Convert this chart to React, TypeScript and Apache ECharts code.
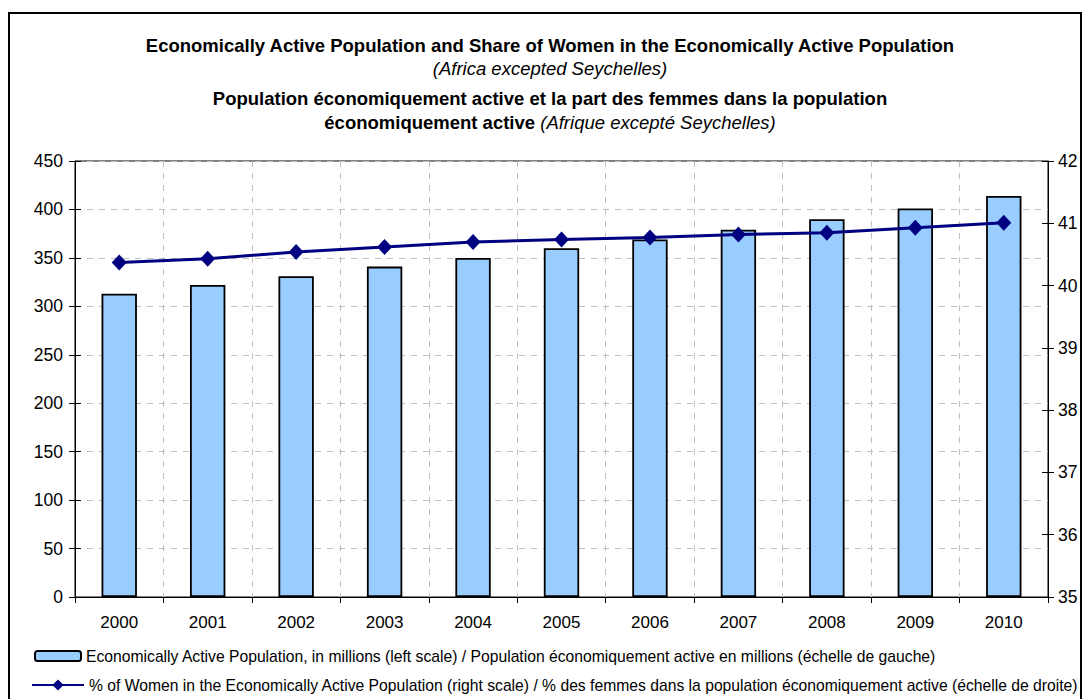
import React, { useEffect, useRef } from "react";
import * as echarts from "echarts";

const years = ["2000", "2001", "2002", "2003", "2004", "2005", "2006", "2007", "2008", "2009", "2010"];
const activePopulation = [313, 322, 331, 341, 350, 360, 369, 379, 390, 401, 414];
const womenShare = [40.37, 40.43, 40.54, 40.62, 40.7, 40.74, 40.77, 40.82, 40.85, 40.93, 41.01];

const titleLine1 = "Economically Active Population and Share of Women in the Economically Active Population";
const titleLine2 = "(Africa excepted Seychelles)";
const titleLine3 = "Population économiquement active et la part des femmes dans la population";
const titleLine4a = "économiquement active";
const titleLine4b = "(Afrique excepté Seychelles)";

const barName =
  "Economically Active Population, in millions (left scale) / Population économiquement active en millions (échelle de gauche)";
const lineName =
  "% of Women in the Economically Active Population (right scale) / % des femmes dans la population économiquement active (échelle de droite)";

const FONT = "'Liberation Sans', Arial, sans-serif";
const TITLE_SIZE = 18.5;
const LEGEND_SIZE = 15.7;

export default function App() {
  const ref = useRef<HTMLDivElement>(null);
  useEffect(() => {
    document.body.style.margin = "0";
    if (!ref.current) return;
    const chart = echarts.init(ref.current, null, { renderer: "svg" });
    const dash = [6, 6];
    const legendCommon = {
      orient: "horizontal",
      left: 29,
      itemWidth: 46,
      itemHeight: 10,
      textStyle: { fontFamily: FONT, fontSize: LEGEND_SIZE, color: "#000" },
    };
    chart.setOption({
      animation: false,
      backgroundColor: "#ffffff",
      textStyle: { fontFamily: FONT, color: "#000" },
      graphic: [
        {
          type: "rect",
          shape: { x: 9, y: 13, width: 1072, height: 700 },
          style: { fill: "none", stroke: "#000", lineWidth: 2 },
          silent: true,
        },
        {
          type: "text",
          x: 550,
          y: 45,
          style: {
            text: titleLine1,
            fontFamily: FONT,
            fontWeight: "bold",
            fontSize: TITLE_SIZE,
            fill: "#000",
            align: "center",
            verticalAlign: "middle",
          },
        },
        {
          type: "text",
          x: 550,
          y: 68,
          style: {
            text: titleLine2,
            fontFamily: FONT,
            fontStyle: "italic",
            fontSize: TITLE_SIZE,
            fill: "#000",
            align: "center",
            verticalAlign: "middle",
          },
        },
        {
          type: "text",
          x: 550,
          y: 98,
          style: {
            text: titleLine3,
            fontFamily: FONT,
            fontWeight: "bold",
            fontSize: TITLE_SIZE,
            fill: "#000",
            align: "center",
            verticalAlign: "middle",
          },
        },
        {
          type: "text",
          x: 550,
          y: 122,
          style: {
            text: "{b|" + titleLine4a + "} {i|" + titleLine4b + "}",
            fontFamily: FONT,
            fontSize: TITLE_SIZE,
            fill: "#000",
            align: "center",
            verticalAlign: "middle",
            rich: {
              b: { fontFamily: FONT, fontWeight: "bold", fontSize: TITLE_SIZE, fill: "#000" },
              i: { fontFamily: FONT, fontStyle: "italic", fontSize: TITLE_SIZE, fill: "#000" },
            },
          },
        },
      ],
      legend: [
        { ...legendCommon, top: 643, data: [{ name: barName }] },
        { ...legendCommon, left: 26, itemWidth: 52, itemHeight: 14, top: 672, data: [{ name: lineName }] },
      ],
      grid: {
        left: 75,
        right: 40,
        top: 161,
        bottom: 102,
        show: true,
        borderColor: "#000",
        borderWidth: 1,
        backgroundColor: "transparent",
      },
      xAxis: {
        type: "category",
        data: years,
        boundaryGap: true,
        axisLine: { lineStyle: { color: "#000", width: 1 } },
        axisTick: { show: true, length: 6, interval: 0, lineStyle: { color: "#000" } },
        axisLabel: { fontFamily: FONT, fontSize: 17, color: "#000", margin: 17, interval: 0 },
        splitLine: { show: true, interval: 0, lineStyle: { color: "#c0c0c0", type: dash, width: 1 } },
      },
      yAxis: [
        {
          type: "value",
          position: "left",
          min: 0,
          max: 450,
          interval: 50,
          axisLine: { show: true, lineStyle: { color: "#000", width: 1 } },
          axisTick: { show: true, length: 6, lineStyle: { color: "#000" } },
          axisLabel: { fontFamily: FONT, fontSize: 17.5, color: "#000", margin: 12 },
          splitLine: { show: true, lineStyle: { color: "#c0c0c0", type: dash, width: 1 } },
        },
        {
          type: "value",
          position: "right",
          min: 35,
          max: 42,
          interval: 1,
          axisLine: { show: true, lineStyle: { color: "#000", width: 1 } },
          axisTick: { show: true, length: 6, lineStyle: { color: "#000" } },
          axisLabel: { fontFamily: FONT, fontSize: 17.5, color: "#000", margin: 10 },
          splitLine: { show: false },
        },
        {
          type: "value",
          position: "left",
          min: 0,
          max: 450,
          interval: 50,
          axisLine: { show: false },
          axisTick: { show: true, inside: true, length: 6, lineStyle: { color: "#000" } },
          axisLabel: { show: false },
          splitLine: { show: false },
        },
        {
          type: "value",
          position: "right",
          min: 35,
          max: 42,
          interval: 1,
          axisLine: { show: false },
          axisTick: { show: true, inside: true, length: 6, lineStyle: { color: "#000" } },
          axisLabel: { show: false },
          splitLine: { show: false },
        },
      ],
      series: [
        {
          name: barName,
          type: "bar",
          yAxisIndex: 0,
          data: activePopulation,
          barWidth: "40%",
          itemStyle: { color: "#99ccff", borderColor: "#000", borderWidth: 1.8 },
        },
        {
          name: lineName,
          type: "line",
          yAxisIndex: 1,
          data: womenShare,
          symbol: "diamond",
          symbolSize: [15, 16],
          showSymbol: true,
          lineStyle: { color: "#000080", width: 3 },
          itemStyle: { color: "#000080" },
        },
      ],
    });
    return () => chart.dispose();
  }, []);
  return <div ref={ref} style={{ width: 1088, height: 699 }} />;
}
